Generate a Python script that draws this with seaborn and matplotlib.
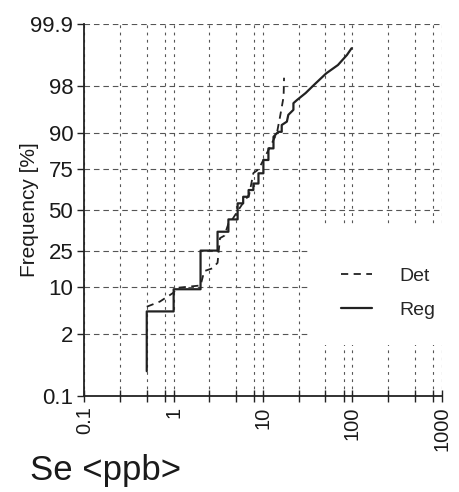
import numpy as np
import pandas as pd
import matplotlib
matplotlib.use("Agg")
import matplotlib.pyplot as plt
import matplotlib.ticker as mticker
from matplotlib.lines import Line2D
from matplotlib.patches import Rectangle
from statistics import NormalDist
import seaborn as sns

# Cumulative frequency curves of Se concentration
x_reg = [0.5, 0.5, 1.0, 1.0, 2.0, 2.0, 3.1, 3.1, 4.1, 4.1, 5.2, 5.2, 6.0, 6.0,
         6.9, 6.9, 7.8, 7.8, 8.9, 8.9, 10.1, 10.1, 11.5, 11.5, 13.1, 13.1,
         14.8, 16.2, 16.2, 18.5, 19.2, 21.9, 21.9, 23.9, 30.0, 37.0, 51.0,
         69.0, 87.0, 98.0]
p_reg = [0.37, 4.6, 4.6, 9.4, 9.4, 25.0, 25.0, 35.9, 35.9, 43.8, 43.8, 54.4,
         54.4, 58.7, 58.7, 63.0, 63.0, 67.0, 67.0, 72.9, 72.9, 79.7, 79.7,
         84.7, 84.7, 88.8, 90.3, 90.3, 92.1, 92.9, 94.3, 95.2, 96.2, 96.6,
         97.4, 98.1, 98.84, 99.2, 99.5, 99.64]

x_det = [0.5, 0.7, 1.0, 1.1, 2.0, 2.2, 2.7, 3.1, 3.3, 3.7, 4.1, 4.5, 5.3,
         6.2, 7.0, 7.8, 8.9, 10.1, 12.0, 14.3, 15.5, 17.0, 17.2]
p_det = [5.4, 6.4, 8.5, 9.8, 10.5, 15.5, 16.6, 19.0, 32.0, 33.5, 41.0, 43.5,
         50.0, 56.0, 60.0, 73.0, 75.0, 79.7, 85.3, 89.9, 93.9, 97.0, 98.6]

series_names = ["Det", "Reg"]
x_ticks = [0.1, 1, 10, 100, 1000]
x_tick_labels = ["0.1", "1", "10", "100", "1000"]
x_minor = [m * 10.0 ** k for k in range(-1, 3) for m in (2.5, 5, 8)]
y_ticks = [0.1, 2, 10, 25, 50, 75, 90, 98, 99.9]
y_tick_labels = ["0.1", "2", "10", "25", "50", "75", "90", "98", "99.9"]

df = pd.concat([
    pd.DataFrame({"x": x_det, "p": p_det, "series": "Det"}),
    pd.DataFrame({"x": x_reg, "p": p_reg, "series": "Reg"}),
], ignore_index=True)

sns.set_style("white")
plt.rcParams["font.family"] = ["Liberation Sans", "DejaVu Sans"]

_nd = NormalDist()


def _ppf(v):
    v = min(max(v / 100.0, 1e-9), 1 - 1e-9)
    return _nd.inv_cdf(v)


def _cdf(z):
    return 100.0 * _nd.cdf(z)


def prob_forward(p):
    return np.vectorize(_ppf, otypes=[float])(np.asarray(p, dtype=float))


def prob_inverse(z):
    return np.vectorize(_cdf, otypes=[float])(np.asarray(z, dtype=float))


fig = plt.figure(figsize=(4.59, 4.92), dpi=100)
ax = fig.add_axes([84.3 / 459, 1 - 396 / 492, 357.4 / 459, 372 / 492])

ax.set_xscale("log")
ax.set_yscale("function", functions=(prob_forward, prob_inverse))

sns.lineplot(data=df, x="x", y="p", style="series", sort=False, estimator=None,
             units="series", color="#222222", dashes={"Det": (4, 3), "Reg": ""},
             style_order=series_names, legend=False, ax=ax, zorder=3)
for ln in ax.get_lines():
    if ln.get_linestyle() == "-":
        ln.set_linewidth(1.6)
    else:
        ln.set_linewidth(1.3)

ax.set_xlim(0.1, 1000)
ax.set_ylim(0.1, 99.9)

ax.xaxis.set_major_locator(mticker.FixedLocator(x_ticks))
ax.xaxis.set_major_formatter(mticker.FixedFormatter(x_tick_labels))
ax.xaxis.set_minor_locator(mticker.FixedLocator(x_minor))
ax.xaxis.set_minor_formatter(mticker.NullFormatter())
ax.yaxis.set_major_locator(mticker.FixedLocator(y_ticks))
ax.yaxis.set_major_formatter(mticker.FixedFormatter(y_tick_labels))
ax.yaxis.set_minor_locator(mticker.NullLocator())

ax.tick_params(axis="x", which="both", direction="inout", length=9, width=1.0,
               color="#222222", labelsize=14.5, labelrotation=90, pad=3,
               bottom=True)
ax.tick_params(axis="y", which="major", direction="out", length=5, width=1.0,
               color="#222222", labelsize=16, pad=3, left=True)
for lab in ax.get_xticklabels() + ax.get_yticklabels():
    lab.set_color("#1a1a1a")

# dashed grid: long dashes across, short dashes down
ax.grid(False)
ax.xaxis.grid(True, which="both", linestyle=(0, (2.5, 4)), linewidth=0.8,
              color="#555555")
ax.yaxis.grid(True, which="major", linestyle=(0, (5, 3.5)), linewidth=0.8,
              color="#555555")
ax.set_axisbelow(True)

for side in ("top", "right"):
    ax.spines[side].set_visible(False)
for side in ("left", "bottom"):
    ax.spines[side].set_color("#222222")
    ax.spines[side].set_linewidth(1.3)

# blank panel behind the legend
ax.add_patch(Rectangle((0.632, 0.137), 0.4, 0.317, transform=ax.transAxes,
                       facecolor="white", edgecolor="none", zorder=1,
                       clip_on=False))

handles = [
    Line2D([], [], color="#222222", linestyle=(0, (4, 3)), linewidth=1.3),
    Line2D([], [], color="#222222", linestyle="-", linewidth=1.6),
]
ax.legend(handles, series_names, loc="center left",
          bbox_to_anchor=(0.67, 0.276), frameon=False, fontsize=14,
          handlelength=1.6, handletextpad=1.4, labelspacing=0.85)

ax.set_ylabel("Frequency [%]", fontsize=15, color="#1a1a1a",
              va="center", ha="center")
ax.yaxis.set_label_coords(-0.152, 0.5)
ax.set_xlabel("")

fig.text(30 / 459, 1 - 480 / 492, "Se <ppb>", fontsize=25,
         color="#1a1a1a", va="baseline", ha="left")

fig.savefig("out.png", dpi=100, facecolor="white")
